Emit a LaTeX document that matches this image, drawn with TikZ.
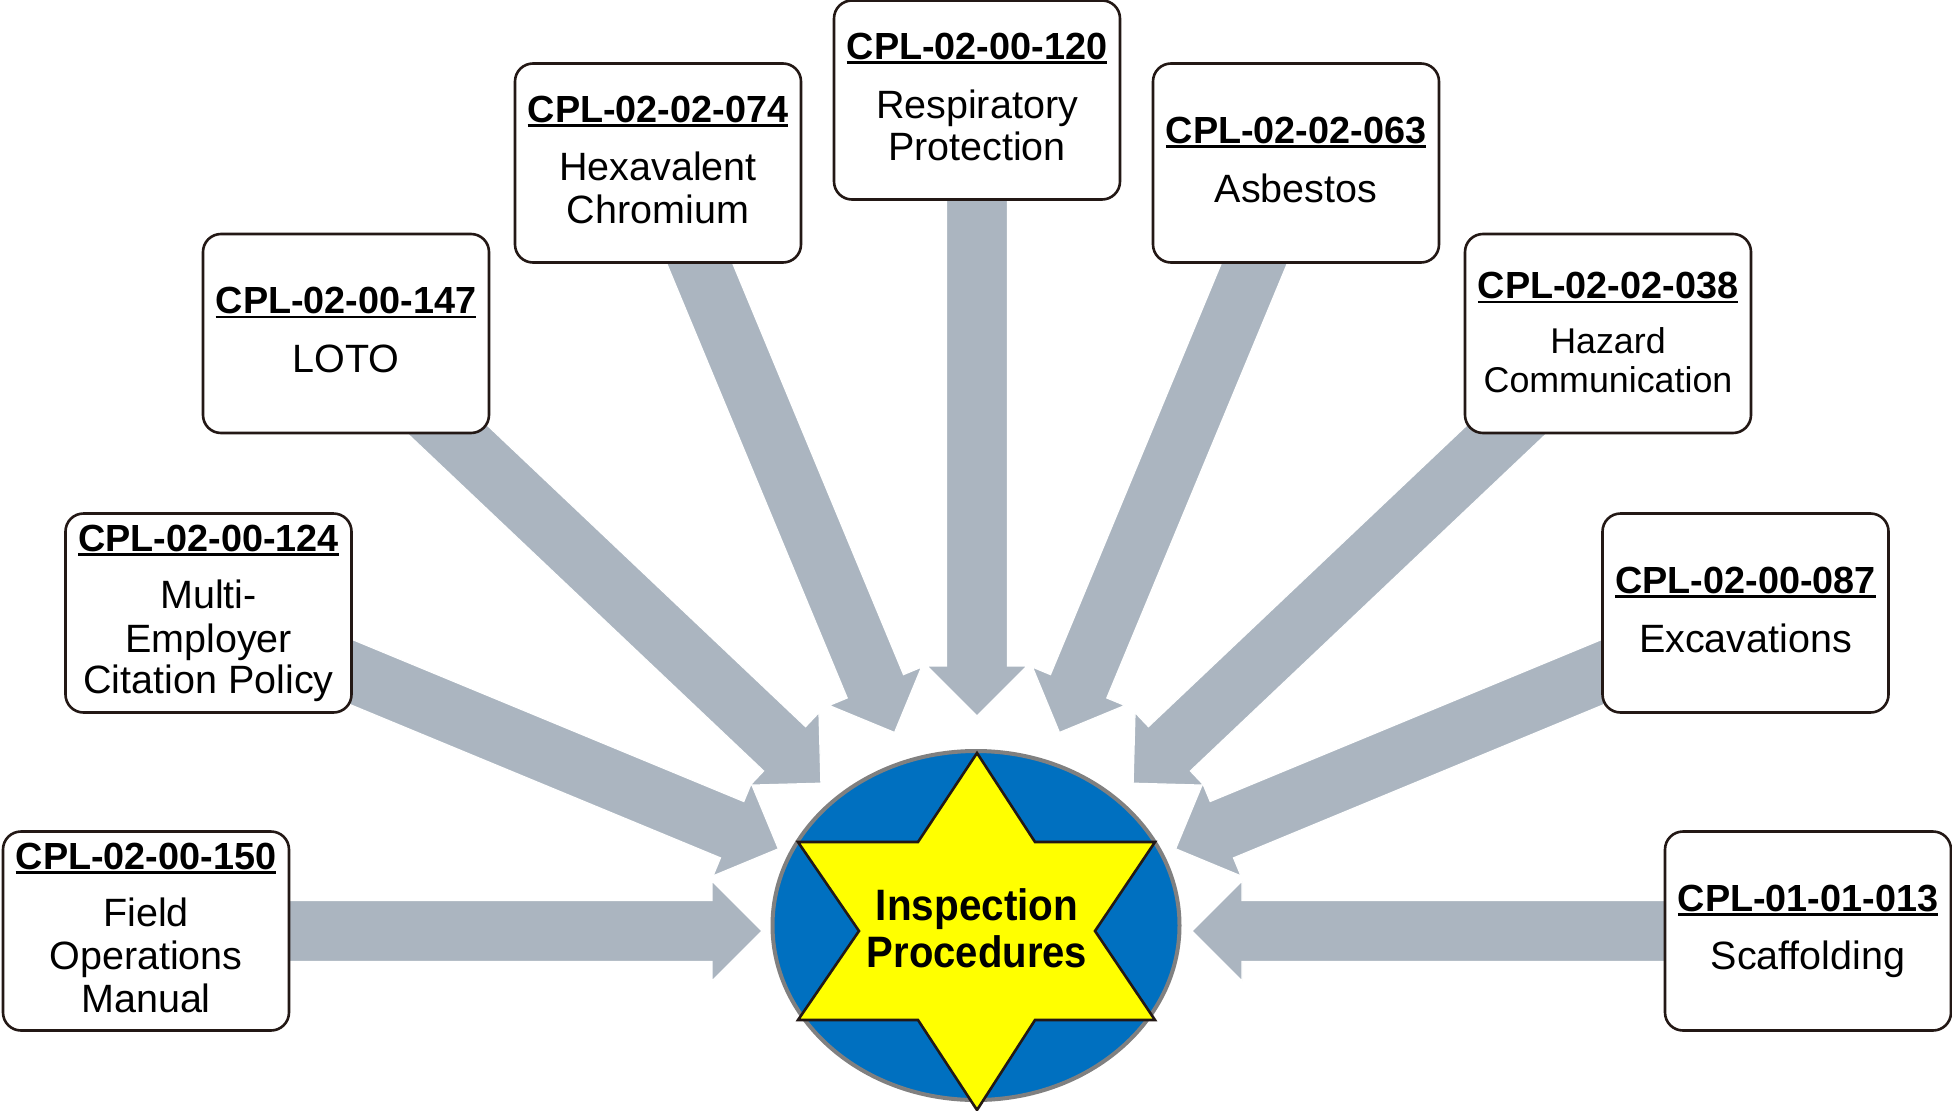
\documentclass[tikz,border=0pt]{standalone}
\usepackage{fontspec}
\setmainfont{Liberation Sans}
\usepackage{graphicx}
\usetikzlibrary{calc,shapes.geometric}
\definecolor{arrowc}{RGB}{171,181,192}
\definecolor{boxline}{RGB}{35,24,21}
\definecolor{ellfill}{RGB}{0,112,192}
\definecolor{ellline}{RGB}{128,128,128}
\definecolor{starfill}{RGB}{255,255,0}
\newcommand\ulcpl[1]{\setbox0\hbox{#1}\rlap{\vrule height -2pt depth 4.5pt width \wd0}\box0}
\newcommand\blockarrow[1]{%
  \coordinate (#1hb) at ($(ctr)!265pt!(#1.center)$);
  \coordinate (#1tip) at ($(ctr)!215pt!(#1.center)$);
  \fill[arrowc, draw=white, line width=1.2pt]
    ($(#1.center)!30.5pt!90:(ctr)$) -- ($(#1hb)!30.5pt!90:(ctr)$) --
    ($(#1hb)!50pt!90:(ctr)$) -- (#1tip) -- ($(#1hb)!50pt!-90:(ctr)$) --
    ($(#1hb)!30.5pt!-90:(ctr)$) -- ($(#1.center)!30.5pt!-90:(ctr)$) -- cycle;
}
\tikzset{
  cbox/.style={draw=boxline, line width=2.6pt, fill=white, rounded corners=18pt,
    minimum width=286pt, minimum height=199pt, inner sep=0pt},
  ttl/.style={font=\fontsize{37.8}{42}\selectfont\bfseries, inner sep=0pt, anchor=base},
  bdy/.style={font=\fontsize{39.5}{43}\selectfont, inner sep=0pt, anchor=base},
  bdys/.style={font=\fontsize{35.8}{39}\selectfont, inner sep=0pt, anchor=base},
  ctxt/.style={font=\fontsize{44}{47}\selectfont\bfseries, inner sep=0pt, anchor=base},
}
\begin{document}
\begin{tikzpicture}[x=1pt,y=-1pt]
\useasboundingbox (0,0) rectangle (1952,1111);
\coordinate (ctr) at (977,931);
% box placeholders (invisible) for arrow geometry
\path
  (146,931) node[cbox, draw=none, fill=none] (b1) {}
  (208.5,613) node[cbox, draw=none, fill=none] (b2) {}
  (346,333.5) node[cbox, draw=none, fill=none] (b3) {}
  (658,163) node[cbox, draw=none, fill=none] (b4) {}
  (977,100) node[cbox, draw=none, fill=none] (b5) {}
  (1296,163) node[cbox, draw=none, fill=none] (b6) {}
  (1608,333.5) node[cbox, draw=none, fill=none] (b7) {}
  (1745.5,613) node[cbox, draw=none, fill=none] (b8) {}
  (1808,931) node[cbox, draw=none, fill=none] (b9) {};
\blockarrow{b1}\blockarrow{b2}\blockarrow{b3}\blockarrow{b4}\blockarrow{b5}
\blockarrow{b6}\blockarrow{b7}\blockarrow{b8}\blockarrow{b9}
% boxes
\node[cbox] (B1) at (b1) {};
\node[cbox] (B2) at (b2) {};
\node[cbox] (B3) at (b3) {};
\node[cbox] (B4) at (b4) {};
\node[cbox] (B5) at (b5) {};
\node[cbox] (B6) at (b6) {};
\node[cbox] (B7) at (b7) {};
\node[cbox] (B8) at (b8) {};
\node[cbox] (B9) at (b9) {};
% texts
\node[ttl] (t1) at ($(B1.center)+(0,-62)$) {\ulcpl{CPL-02-00-150}};
\node[bdy] (t1a) at ($(B1.center)+(0,-5)$) {Field};
\node[bdy] (t1b) at ($(B1.center)+(0,38)$) {Operations};
\node[bdy] (t1c) at ($(B1.center)+(0,81)$) {Manual};
\node[ttl] (t2) at ($(B2.center)+(0,-62)$) {\ulcpl{CPL-02-00-124}};
\node[bdy] (t2a) at ($(B2.center)+(0,-5)$) {Multi-};
\node[bdy] (t2b) at ($(B2.center)+(0,39)$) {Employer};
\node[bdy] (t2c) at ($(B2.center)+(0,80)$) {Citation Policy};
\node[ttl] (t3) at ($(B3.center)+(0,-20)$) {\ulcpl{CPL-02-00-147}};
\node[bdy] (t3a) at ($(B3.center)+(0,38.5)$) {LOTO};
\node[ttl] (t4) at ($(B4.center)+(0,-41)$) {\ulcpl{CPL-02-02-074}};
\node[bdy] (t4a) at ($(B4.center)+(0,17)$) {Hexavalent};
\node[bdy] (t4b) at ($(B4.center)+(0,60)$) {Chromium};
\node[ttl] (t5) at ($(B5.center)+(0,-41)$) {\ulcpl{CPL-02-00-120}};
\node[bdy] (t5a) at ($(B5.center)+(0,18)$) {Respiratory};
\node[bdy] (t5b) at ($(B5.center)+(0,60)$) {Protection};
\node[ttl] (t6) at ($(B6.center)+(0,-20)$) {\ulcpl{CPL-02-02-063}};
\node[bdy] (t6a) at ($(B6.center)+(0,39)$) {Asbestos};
\node[ttl] (t7) at ($(B7.center)+(0,-35)$) {\ulcpl{CPL-02-02-038}};
\node[bdys] (t7a) at ($(B7.center)+(0,20)$) {Hazard};
\node[bdys] (t7b) at ($(B7.center)+(0,59)$) {Communication};
\node[ttl] (t8) at ($(B8.center)+(0,-20)$) {\ulcpl{CPL-02-00-087}};
\node[bdy] (t8a) at ($(B8.center)+(0,39)$) {Excavations};
\node[ttl] (t9) at ($(B9.center)+(0,-20)$) {\ulcpl{CPL-01-01-013}};
\node[bdy] (t9a) at ($(B9.center)+(0,38)$) {Scaffolding};
% centre
\node[draw=ellline, line width=4pt, fill=ellfill, ellipse, minimum width=407pt,
  minimum height=349pt, inner sep=0pt] (ell) at (976,925.5) {};
\draw[draw=boxline, line width=2.6pt, fill=starfill, line join=miter]
  (977,753) -- (1035,842) -- (1155,842) -- (1095,931) -- (1155,1020) --
  (1035,1020) -- (977,1110) -- (918,1020) -- (798,1020) -- (859,931) --
  (798,842) -- (918,842) -- cycle;
\node[ctxt] (ip1) at (977,920) {\scalebox{0.92}[1]{Inspection}};
\node[ctxt] (ip2) at (977,967) {\scalebox{0.91}[1]{Procedures}};
\end{tikzpicture}
\end{document}
